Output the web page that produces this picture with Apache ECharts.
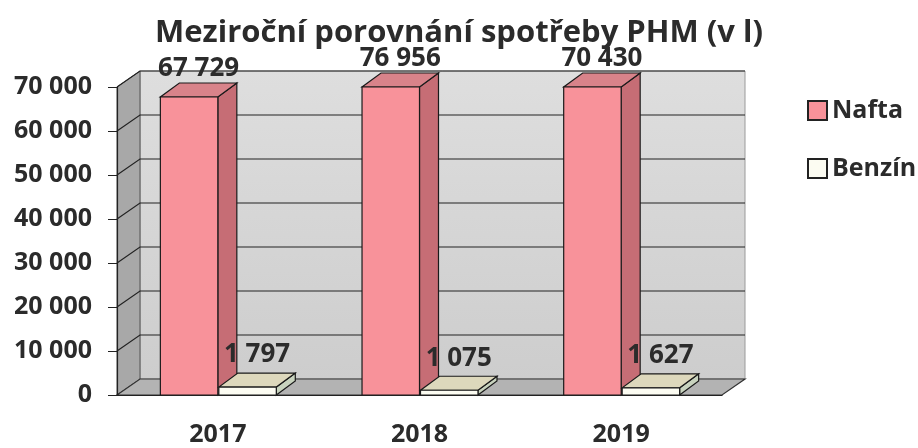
<!DOCTYPE html>
<html>
<head>
<meta charset="utf-8">
<script src="https://cdn.jsdelivr.net/npm/echarts@6/dist/echarts.min.js"></script>
<style>
  html, body { margin: 0; padding: 0; background: #fff; }
  #chart { width: 918px; height: 448px; }
</style>
</head>
<body>
<div id="chart"></div>
<script>
var years = ['2017', '2018', '2019'];
var nafta = [67729, 76956, 70430];
var benzin = [1797, 1075, 1627];
var yTicks = [0, 10000, 20000, 30000, 40000, 50000, 60000, 70000];
var yMax = 70000;

// depth of the back wall and of the boxes
var WX = 23, WY = -16;
var BX = 19, BY = -14;
var FONT = '"Open Sans", sans-serif';
var INK = '#2b2b2b';

function fmt(v) {
  return String(v).replace(/\B(?=(\d{3})+(?!\d))/g, ' ');
}

function wallItem(params, api) {
  var cs = params.coordSys;
  var x0 = cs.x, x1 = cs.x + cs.width;
  var yb = cs.y + cs.height, yt = cs.y;
  var children = [];
  // back wall
  children.push({
    type: 'rect',
    shape: { x: x0 + WX, y: yt + WY, width: cs.width, height: cs.height },
    style: {
      fill: new echarts.graphic.LinearGradient(0, 0, 0, 1, [
        { offset: 0, color: '#dedede' }, { offset: 1, color: '#cdcdcd' }
      ]),
      stroke: '#9a9a9a', lineWidth: 1
    }
  });
  // side wall
  children.push({
    type: 'polygon',
    shape: { points: [[x0, yt], [x0 + WX, yt + WY], [x0 + WX, yb + WY], [x0, yb]] },
    style: { fill: '#a8a8a8', stroke: '#555', lineWidth: 1 }
  });
  // floor
  children.push({
    type: 'polygon',
    shape: { points: [[x0, yb], [x1, yb], [x1 + WX, yb + WY], [x0 + WX, yb + WY]] },
    style: { fill: '#b3b3b3', stroke: '#333', lineWidth: 1.2 }
  });
  // grid lines on the walls
  for (var i = 1; i < yTicks.length; i++) {
    var y = api.coord([0, yTicks[i]])[1];
    children.push({
      type: 'polyline',
      shape: { points: [[x0, y], [x0 + WX, y + WY], [x1 + WX, y + WY]] },
      style: { stroke: '#222', lineWidth: 1.2, fill: null }
    });
  }
  return { type: 'group', children: children };
}

function boxItem(side, front, top, right, labelLift) {
  return function (params, api) {
    var idx = api.value(0);
    var val = api.value(1);
    var v = Math.min(val, yMax);
    var base = api.coord([idx, 0]);
    var yt = api.coord([idx, v])[1];
    var yb = base[1];
    var w = api.size([1, 0])[0] * 0.285;
    var x0 = side < 0 ? base[0] - w : base[0] + 1;
    var st = { stroke: '#1a1a1a', lineWidth: 1.2 };
    return {
      type: 'group',
      children: [
        {
          type: 'polygon',
          shape: { points: [[x0 + w, yt], [x0 + w + BX, yt + BY], [x0 + w + BX, yb + BY], [x0 + w, yb]] },
          style: Object.assign({ fill: right }, st)
        },
        {
          type: 'polygon',
          shape: { points: [[x0, yt], [x0 + w, yt], [x0 + w + BX, yt + BY], [x0 + BX, yt + BY]] },
          style: Object.assign({ fill: top }, st)
        },
        {
          type: 'rect',
          shape: { x: x0, y: yt, width: w, height: yb - yt },
          style: Object.assign({ fill: front }, st)
        },
        {
          type: 'text',
          x: x0 + w / 2 + BX / 2,
          y: yt + BY + 3 - labelLift,
          style: {
            text: fmt(val),
            font: 'bold 26px ' + FONT,
            fill: INK,
            align: 'center',
            verticalAlign: 'bottom'
          }
        }
      ]
    };
  };
}

function pairs(arr) {
  return arr.map(function (v, i) { return [i, v]; });
}

var chart = echarts.init(document.getElementById('chart'));

var option = {
  animation: false,
  backgroundColor: '#fff',
  title: {
    text: 'Meziroční porovnání spotřeby PHM (v l)',
    left: 'center',
    top: 13,
    textStyle: { fontFamily: FONT, fontWeight: 'bold', fontSize: 31, color: INK }
  },
  legend: {
    orient: 'vertical',
    left: 802,
    top: 93,
    itemWidth: 19,
    itemHeight: 19,
    itemGap: 33,
    icon: 'rect',
    textStyle: { fontFamily: FONT, fontWeight: 'bold', fontSize: 25, color: INK, padding: [0, 0, 0, 0] },
    data: ['Nafta', 'Benzín']
  },
  grid: { left: 117, right: 196, top: 87, bottom: 53 },
  xAxis: {
    type: 'category',
    data: years,
    axisLine: { lineStyle: { color: '#222', width: 1.2 } },
    axisTick: { length: 10, lineStyle: { color: '#222' } },
    axisLabel: {
      margin: 27,
      fontFamily: FONT, fontWeight: 'bold', fontSize: 25, color: INK
    },
    z: 10
  },
  yAxis: {
    type: 'value',
    min: 0,
    max: yMax,
    interval: 10000,
    axisLine: { show: true, lineStyle: { color: '#222', width: 1.2 } },
    axisTick: { show: true, length: 9, lineStyle: { color: '#222' } },
    splitLine: { show: false },
    axisLabel: {
      margin: 25,
      fontFamily: FONT, fontWeight: 'bold', fontSize: 25, color: INK,
      formatter: function (v) { return fmt(v); }
    },
    z: 10
  },
  series: [
    {
      name: 'wall',
      type: 'custom',
      renderItem: wallItem,
      data: [[0, 0]],
      silent: true,
      z: 1,
      clip: false
    },
    {
      name: 'Nafta',
      type: 'custom',
      renderItem: boxItem(-1, '#f8929a', '#d8838a', '#c66d75', 4),
      itemStyle: { color: '#f8929a', borderColor: '#222', borderWidth: 1.5 },
      data: pairs(nafta),
      z: 5,
      clip: false
    },
    {
      name: 'Benzín',
      type: 'custom',
      renderItem: boxItem(1, '#fcfcf2', '#ddd8bc', '#c8d3be', 8),
      itemStyle: { color: '#fcfcf2', borderColor: '#222', borderWidth: 1.5 },
      data: pairs(benzin),
      z: 6,
      clip: false
    }
  ]
};

chart.setOption(option);

window.addEventListener('resize', function () {
  chart.resize();
});
</script>
</body>
</html>
